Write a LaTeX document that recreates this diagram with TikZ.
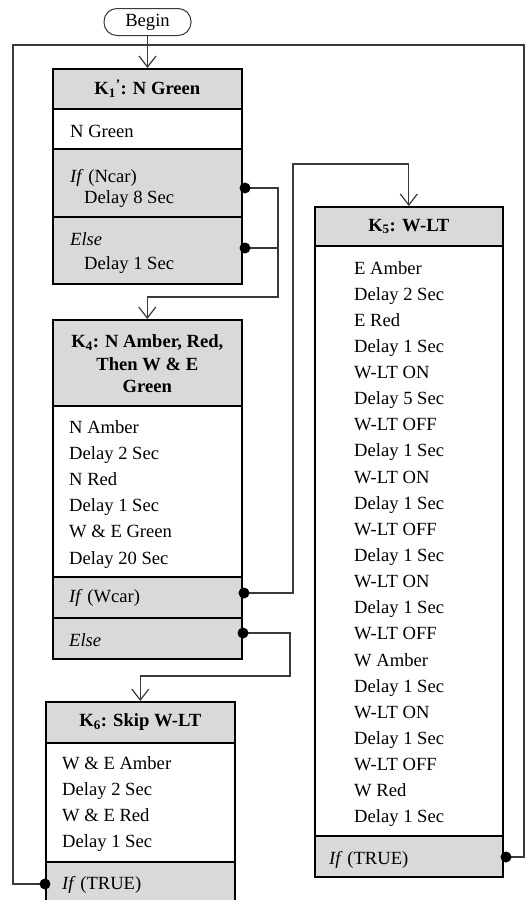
\documentclass[tikz,border=0pt]{standalone}
\usepackage{fontspec}
\setmainfont{Liberation Serif}
\usetikzlibrary{arrows.meta,calc}
\definecolor{boxgray}{HTML}{D9D9D9}
\definecolor{lineg}{HTML}{3A3A3A}
\begin{document}
\begin{tikzpicture}[x=1pt,y=-1pt,
  sec/.style={draw=black, line width=1.6pt, anchor=north west, inner sep=0pt, minimum width=189pt},
  gsec/.style={sec, fill=boxgray},
  wsec/.style={sec, fill=white},
  txt/.style={anchor=base west, inner sep=0pt, font=\fontsize{18.6}{22}\selectfont},
  ttl/.style={inner sep=0pt, align=center, font=\bfseries\fontsize{18.6}{22.5}\selectfont},
  conn/.style={draw=lineg, line width=1.2pt},
  arr/.style={conn, -{Straight Barb[length=11pt,width=17pt,line width=1.2pt]}},
  dot/.style={fill=black}
]
\clip (0,0) rectangle (526,900);
\fill[white] (0,0) rectangle (526,900);

% Begin
\node[draw=lineg, line width=1pt, rounded corners=13pt, minimum width=87pt, minimum height=27pt,
      inner sep=0pt, font=\fontsize{18.6}{22}\selectfont] (begin) at (147.5,22) {Begin};

% K1
\node[gsec, minimum height=40pt] (k1t) at (52,68) {};
\node[wsec, minimum height=40pt] (k1a) at (52,108) {};
\node[gsec, minimum height=68pt] (k1b) at (52,148) {};
\node[gsec, minimum height=67pt] (k1c) at (52,216) {};
\node[ttl] (k1title) at (k1t.center) {K\textsubscript{1}\textsuperscript{'}: N Green};
\node[txt] (k1l1) at (70,137) {N Green};
\node[txt] (k1l2) at (70,182) {\textit{If} (Ncar)};
\node[txt] (k1l3) at (84,203) {Delay 8 Sec};
\node[txt] (k1l4) at (70,245) {\textit{Else}};
\node[txt] (k1l5) at (84,269) {Delay 1 Sec};

% K4
\node[gsec, minimum height=86pt] (k4t) at (52,319) {};
\node[wsec, minimum height=171pt] (k4a) at (52,405) {};
\node[gsec, minimum height=41pt] (k4b) at (52,576) {};
\node[gsec, minimum height=41pt] (k4c) at (52,617) {};
\node[ttl] (k4title) at ($(k4t.center)+(0,1)$) {K\textsubscript{4}: N Amber, Red,\\Then W \& E\\Green};
\foreach \t [count=\i from 0] in {N Amber, Delay 2 Sec, N Red, Delay 1 Sec, W \& E Green, Delay 20 Sec}
  \node[txt] (k4l\i) at (69,{433+26.2*\i}) {\t};
\node[txt] (k4if) at (69,602) {\textit{If} (Wcar)};
\node[txt] (k4else) at (69,646) {\textit{Else}};

% K6
\node[gsec, minimum height=41pt] (k6t) at (45,701) {};
\node[wsec, minimum height=119pt] (k6a) at (45,742) {};
\node[gsec, minimum height=50pt] (k6b) at (45,861) {};
\node[ttl] (k6title) at (k6t.center) {K\textsubscript{6}: Skip W-LT};
\foreach \t [count=\i from 0] in {W \& E Amber, Delay 2 Sec, W \& E Red, Delay 1 Sec}
  \node[txt] (k6l\i) at (62,{769+26*\i}) {\t};
\node[txt] (k6if) at (62,889) {\textit{If} (TRUE)};

% K5
\node[gsec, minimum height=39pt, minimum width=188pt] (k5t) at (314,206) {};
\node[wsec, minimum height=590pt, minimum width=188pt] (k5a) at (314,245) {};
\node[gsec, minimum height=41pt, minimum width=188pt] (k5b) at (314,835) {};
\node[ttl] (k5title) at (k5t.center) {K\textsubscript{5}: W-LT};
\foreach \t [count=\i from 0] in {E Amber, Delay 2 Sec, E Red, Delay 1 Sec, W-LT ON, Delay 5 Sec,
  W-LT OFF, Delay 1 Sec, W-LT ON, Delay 1 Sec, W-LT OFF, Delay 1 Sec, W-LT ON, Delay 1 Sec,
  W-LT OFF, W Amber, Delay 1 Sec, W-LT ON, Delay 1 Sec, W-LT OFF, W Red, Delay 1 Sec}
  \node[txt] (k5l\i) at (354,{274+26.14*\i}) {\t};
\node[txt] (k5if) at (329,864) {\textit{If} (TRUE)};

% dots
\coordinate (d1) at (245,188);
\coordinate (d2) at (245,248);
\coordinate (d3) at (244,593);
\coordinate (d4) at (243,633);
\coordinate (d5) at (506,857);
\coordinate (d6) at (45,884);
\coordinate (toprow) at (0,45);
\coordinate (jn) at (begin.south |- toprow);

% connectors
\draw[arr] (begin.south) -- (begin.south |- k1t.north);
\draw[conn] (d6) -| (13,45) -- (jn);
\draw[conn] (d5) -| (524,45) -- (jn);
\draw[arr] (d1) -| (278,297) -| (k4t.north);
\draw[conn] (d2) -- (278,248);
\draw[arr] (d3) -| (293,164) -| (k5t.north);
\draw[arr] (d4) -| (290,676) -| (k6t.north);

\foreach \d in {d1,d2,d3,d4,d5,d6} \fill[dot] (\d) circle (5.5pt);
\end{tikzpicture}
\end{document}
